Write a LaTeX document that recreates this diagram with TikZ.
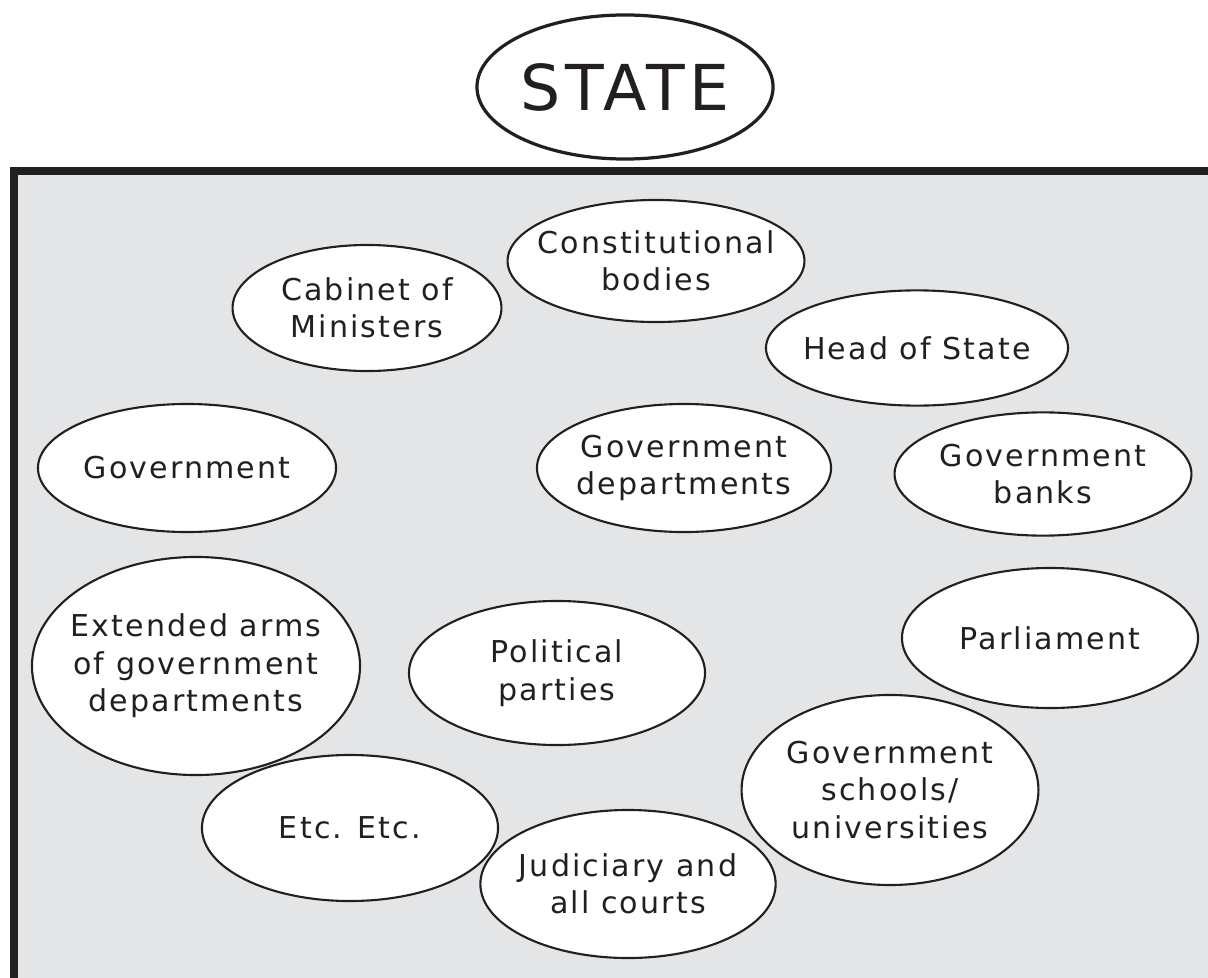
\documentclass[tikz,border=0pt]{standalone}
\usepackage{fontspec}
\setmainfont{DejaVu Sans}[LetterSpace=7]
\usetikzlibrary{shapes.geometric}
\definecolor{boxgray}{HTML}{E4E5E7}
\definecolor{ink}{HTML}{231F20}

\begin{document}
\begin{tikzpicture}[x=0.025cm, y=-0.025cm, oval/.style={draw=ink, line width=1.5pt, fill=white, shape=ellipse, inner sep=0pt}, txt/.style={align=center, text=ink, font=\fontsize{21.4}{26.6}\selectfont}]
        \def\wide{7.4cm}
        \useasboundingbox (0,0) rectangle (1208,978);

        \fill[boxgray] (14,171) rectangle (1208,978);
        \draw[ink, line width=0.2cm] (14,978) -- (14,171) -- (1208,171);

        \node[oval, line width=2.3pt, minimum width=\wide, minimum height=3.6cm] (state) at (625,87) {};
        \node[txt, font=\fontsize{45}{50}\selectfont] (statet) at (state) {STATE};

        \node[oval, minimum width=7.42cm, minimum height=3.05cm] (cons) at (656,261) {};\node[txt] (const) at (cons) {Constitutional\\bodies};
        \node[oval, minimum width=6.72cm, minimum height=3.15cm] (cab) at (367,308) {};\node[txt] (cabt) at (cab) {Cabinet of\\Ministers};
        \node[oval, minimum width=7.55cm, minimum height=2.88cm] (head) at (917,348) {};\node[txt] (headt) at (head) {Head of State};

        \node[oval, minimum width=7.45cm, minimum height=3.2cm] (govt) at (187,468) {};\node[txt] (govtt) at (govt) {Government};
        \node[oval, minimum width=7.35cm, minimum height=3.2cm] (dept) at (684,468) {};\node[txt] (deptt) at (dept) {Government\\departments};
        \node[oval, minimum width=7.42cm, minimum height=3.08cm] (bank) at (1043,474) {};\node[txt] (bankt) at (bank) {Government\\banks};

        \node[oval, minimum width=\wide, minimum height=3.65cm] (etc) at (350,828) {};\node[txt] (etct) at (etc) {Etc. Etc.};
        \node[oval, minimum width=8.2cm, minimum height=5.45cm] (arms) at (196,666) {};\node[txt] (armst) at (arms) {Extended arms\\of government\\departments};
        \node[oval, minimum width=\wide, minimum height=3.6cm] (party) at (557,673) {};\node[txt] (partyt) at (party) {Political\\parties};
        \node[oval, minimum width=\wide, minimum height=3.5cm] (parl) at (1050,638) {};\node[txt] (parlt) at (parl) {Parliament};

        \node[oval, minimum width=7.38cm, minimum height=3.7cm] (court) at (628,884) {};\node[txt] (courtt) at (court) {Judiciary and\\all courts};
        \node[oval, minimum width=7.42cm, minimum height=4.75cm] (school) at (890,790) {};\node[txt] (schoolt) at (school) {Government\\schools/\\universities};
    \end{tikzpicture}
\end{document}
